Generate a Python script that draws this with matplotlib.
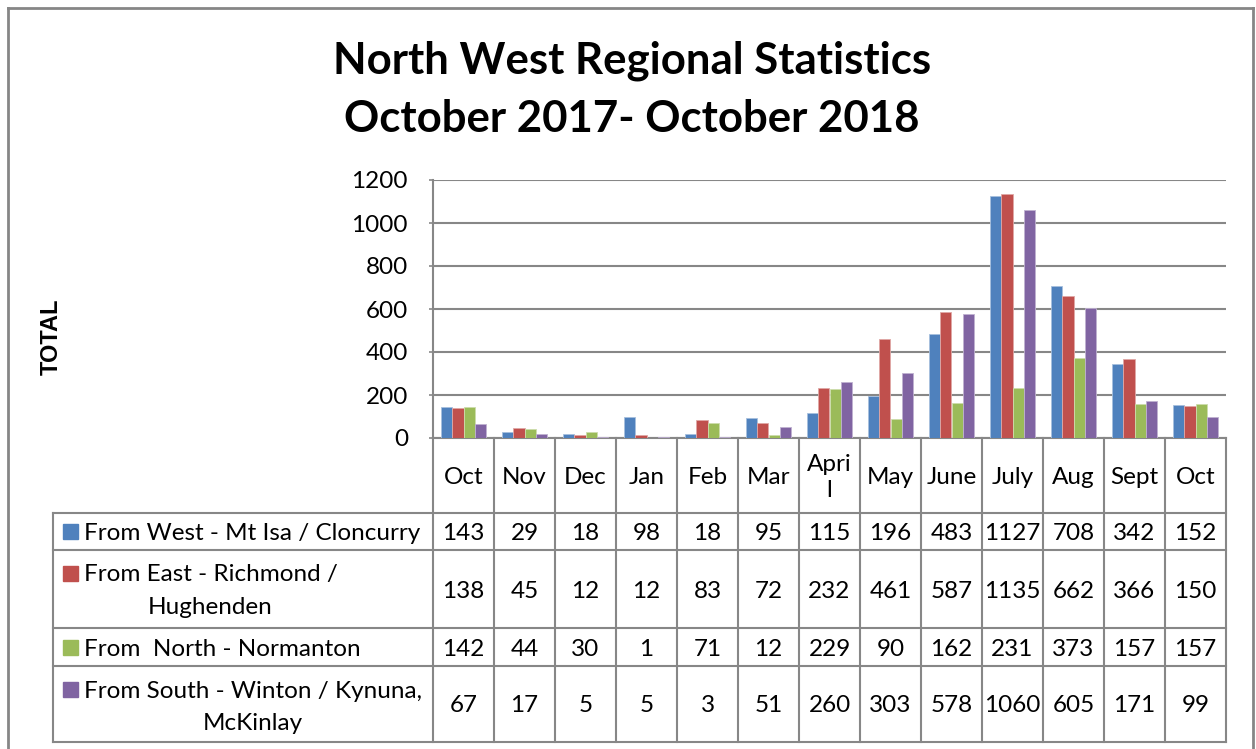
import matplotlib
matplotlib.use('Agg')
import matplotlib.pyplot as plt
from matplotlib.lines import Line2D
import matplotlib.transforms as mtransforms
import numpy as np

months = ['Oct', 'Nov', 'Dec', 'Jan', 'Feb', 'Mar', 'Apri\nl', 'May', 'June', 'July', 'Aug', 'Sept', 'Oct']
west = [143, 29, 18, 98, 18, 95, 115, 196, 483, 1127, 708, 342, 152]
east = [138, 45, 12, 12, 83, 72, 232, 461, 587, 1135, 662, 366, 150]
north = [142, 44, 30, 1, 71, 12, 229, 90, 162, 231, 373, 157, 157]
south = [67, 17, 5, 5, 3, 51, 260, 303, 578, 1060, 605, 171, 99]
series_labels = [['From West - Mt Isa / Cloncurry'],
                 ['From East - Richmond /', 'Hughenden'],
                 ['From  North - Normanton'],
                 ['From South - Winton / Kynuna,', 'McKinlay']]
yticks = [0, 200, 400, 600, 800, 1000, 1200]

colors = ['#4F81BD', '#C0504D', '#9BBB59', '#8064A2']
edge_colors = ['#A7C0DE', '#DFA8A6', '#CDDDAC', '#BFB1D0']
grid_c = '#878787'
font = 'Lato'

W, H = 1256, 749
AX_L, AX_R, AX_T, AX_B = 433, 1226, 180, 438
fig = plt.figure(figsize=(W / 100, H / 100), dpi=100)
ax = fig.add_axes([AX_L / W, 1 - AX_B / H, (AX_R - AX_L) / W, (AX_B - AX_T) / H])

def ya(px):
    # pixel row -> axes fraction
    return (AX_B - px) / (AX_B - AX_T)

def xa(px):
    return (px - AX_L) / (AX_R - AX_L)

n = len(months)
x = np.arange(n)
bw = 0.185
for k, vals in enumerate([west, east, north, south]):
    ax.bar(x + (k - 1.5) * bw, vals, bw, color=colors[k], edgecolor=edge_colors[k],
           linewidth=0.6, zorder=3)

ax.set_xlim(-0.5, n - 0.5)
ax.set_ylim(0, 1200)
ax.set_yticks(yticks)
ax.set_yticklabels([str(v) for v in yticks], fontsize=17.5, family=font)
ax.tick_params(axis='y', length=3, width=1.2, color=grid_c, pad=15)
ax.set_xticks([])
ax.yaxis.grid(True, color=grid_c, linewidth=1.5, zorder=0)
for s in ['top', 'right']:
    ax.spines[s].set_visible(False)
for s in ['left', 'bottom']:
    ax.spines[s].set_color(grid_c)
    ax.spines[s].set_linewidth(1.5)

ax.set_ylabel('TOTAL', fontsize=17, fontweight='bold', family='Liberation Sans')
ax.yaxis.label.set_va('center')
ax.yaxis.set_label_coords(xa(51), ya(337), transform=ax.transAxes)

fig.text(632 / W, 1 - 61 / H, 'North West Regional Statistics', ha='center', va='center',
         fontsize=31.5, fontweight='bold', family=font)
fig.text(632 / W, 1 - 119 / H, 'October 2017- October 2018', ha='center', va='center',
         fontsize=31.5, fontweight='bold', family=font)

# data table under the axis
blend = mtransforms.blended_transform_factory(ax.transData, ax.transAxes)
row_edges = [438, 513, 550, 628, 666, 742]
lk = dict(color=grid_c, linewidth=1.5, clip_on=False, zorder=5)
for i in range(n + 1):
    ax.add_line(Line2D([i - 0.5, i - 0.5], [ya(row_edges[0]), ya(row_edges[-1])], transform=blend, **lk))
for r in row_edges[1:]:
    ax.add_line(Line2D([xa(53), 1], [ya(r), ya(r)], transform=ax.transAxes, **lk))
ax.add_line(Line2D([xa(53), xa(53)], [ya(row_edges[1]), ya(row_edges[-1])], transform=ax.transAxes, **lk))

tfs = 17.5
dy = 2  # small downward nudge of text inside cells
hdr_mid = ya((row_edges[0] + row_edges[1]) / 2 + dy)
for i, m in enumerate(months):
    ax.text(i, hdr_mid, m, transform=blend, ha='center', va='center', fontsize=tfs,
            family=font, linespacing=1.3)

series = [west, east, north, south]
indent = [0, 64, 0, 119]
for r, vals in enumerate(series):
    top, bot = row_edges[r + 1], row_edges[r + 2]
    mid = ya((top + bot) / 2 + dy)
    for i, v in enumerate(vals):
        ax.text(i, mid, str(v), transform=blend, ha='center', va='center', fontsize=tfs, family=font)
    lines = series_labels[r]
    if len(lines) == 1:
        ys = [(top + bot) / 2]
    else:
        ys = [top + 23, top + 55]
    ax.add_patch(plt.Rectangle((xa(63), ya(ys[0] + 7.5)), xa(78) - xa(63), ya(ys[0] - 7.5) - ya(ys[0] + 7.5),
                               transform=ax.transAxes, color=colors[r], clip_on=False, zorder=5))
    for j, (t, yy) in enumerate(zip(lines, ys)):
        ax.text(xa(84 + (indent[r] if j else 0)), ya(yy + dy), t, transform=ax.transAxes,
                ha='left', va='center', fontsize=tfs, family=font)

# outer chart frame
fk = dict(color='#868686', linewidth=2)
fig.add_artist(Line2D([8 / W, 8 / W], [0, 1 - 8 / H], transform=fig.transFigure, **fk))
fig.add_artist(Line2D([8 / W, 1253 / W], [1 - 8 / H, 1 - 8 / H], transform=fig.transFigure, **fk))
fig.add_artist(Line2D([1253 / W, 1253 / W], [0, 1 - 8 / H], transform=fig.transFigure, **fk))

fig.savefig('out.png', dpi=100)
